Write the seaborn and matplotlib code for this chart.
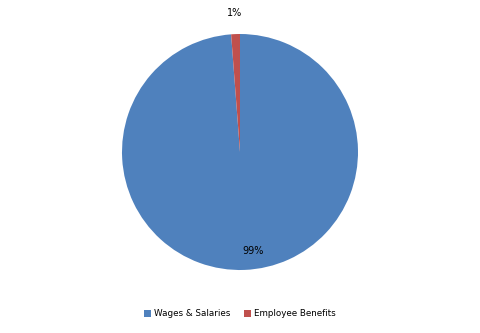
import matplotlib
matplotlib.use("Agg")
import matplotlib.pyplot as plt
import seaborn as sns
import numpy as np
from matplotlib.patches import Patch

categories = ["Wages & Salaries", "Employee Benefits"]
values = [98.8, 1.2]
pct_labels = ["99%", "1%"]
colors = ["#4F81BD", "#C0504D"]

sns.set_style("white")
plt.rcParams['font.family'] = ['DejaVu Sans']
plt.rcParams['text.color'] = 'black'

fig = plt.figure(figsize=(4.8, 3.33), dpi=100)
ax = fig.add_axes([122/480, (333-270)/333, 236/480, 236/333])
wedges, _ = ax.pie(values, colors=sns.color_palette(colors), startangle=90,
                   counterclock=False, radius=1.0,
                   wedgeprops=dict(linewidth=0))
ax.set_xlim(-1, 1)
ax.set_ylim(-1, 1)
ax.set_aspect('auto')
ax.axis('off')

dists = [0.84, 1.18]
for w, lab, d in zip(wedges, pct_labels, dists):
    ang = np.deg2rad((w.theta1 + w.theta2) / 2)
    ax.text(d*np.cos(ang) + (0.08 if d < 1 else 0), d*np.sin(ang), lab,
            ha='center', va='center', fontsize=7, color='black')

handles = [Patch(facecolor=c, edgecolor='none') for c in colors]
fig.legend(handles, categories, loc='center', bbox_to_anchor=(0.5, 1-314/333),
           ncol=2, frameon=False, fontsize=6.3, handlelength=0.8, handleheight=0.8,
           handletextpad=0.3, columnspacing=1.6, labelcolor='black')
fig.savefig("out.png", dpi=100)
